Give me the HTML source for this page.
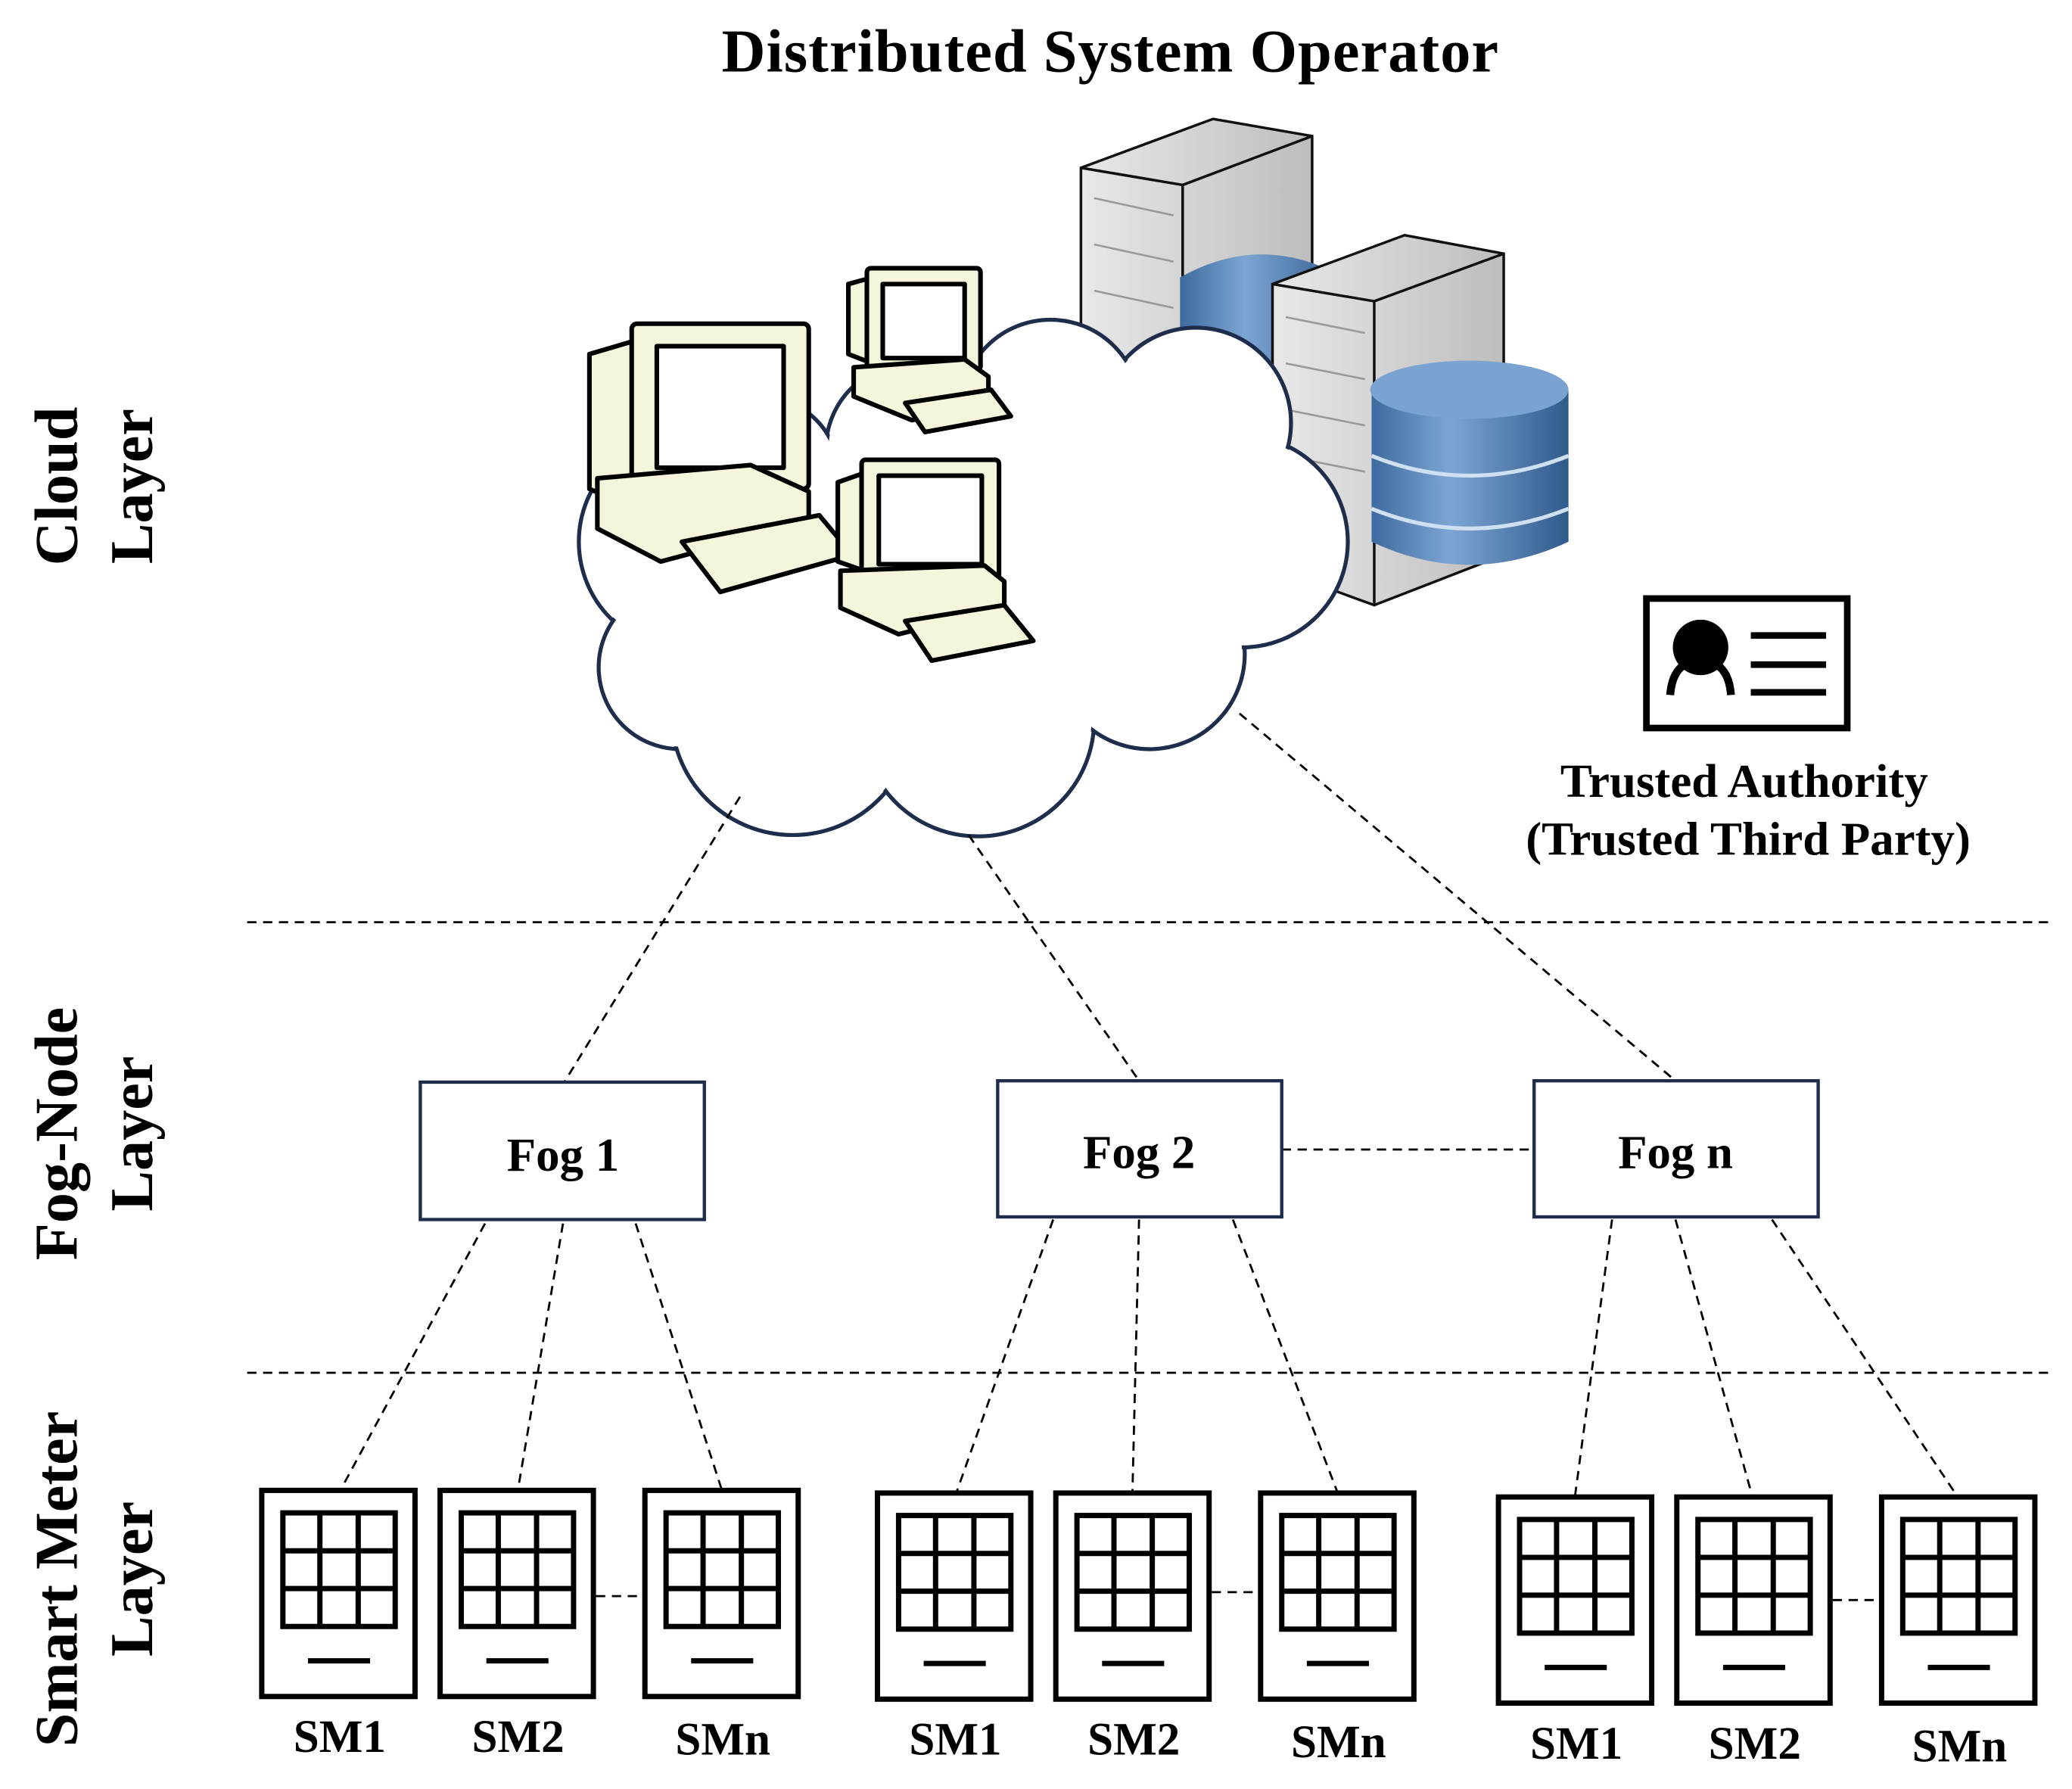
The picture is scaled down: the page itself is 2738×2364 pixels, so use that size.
<!DOCTYPE html>
<html><head><meta charset="utf-8"><style>
html,body{margin:0;padding:0;background:#fff;}
svg{display:block;}
text{font-family:"Liberation Serif",serif;font-weight:bold;fill:#000;}
</style></head><body>
<svg width="2738" height="2364" viewBox="0 0 1568 1354" xmlns="http://www.w3.org/2000/svg">
<defs>
<linearGradient id="srv" x1="0" x2="1"><stop offset="0" stop-color="#e8e8e8"/><stop offset="1" stop-color="#bdbdbd"/></linearGradient>
<linearGradient id="db" x1="0" x2="1"><stop offset="0" stop-color="#3d6a9e"/><stop offset="0.4" stop-color="#7ea6d4"/><stop offset="1" stop-color="#2f5a8c"/></linearGradient>
<g id="sm">
<rect x="2" y="2" width="116" height="156" fill="#fff" stroke="#000" stroke-width="4"/>
<rect x="18" y="19" width="85" height="86" fill="none" stroke="#000" stroke-width="4"/>
<path d="M46 19V105M75 19V105M18 47.7H103M18 76.3H103" stroke="#000" stroke-width="4"/>
<path d="M37 131H84" stroke="#000" stroke-width="4"/>
</g>
</defs>
<text x="840" y="54" font-size="46" text-anchor="middle" textLength="588">Distributed System Operator</text>
<g font-size="46" text-anchor="middle">
<text transform="translate(58,368) rotate(-90)">Cloud</text>
<text transform="translate(115,368) rotate(-90)">Layer</text>
<text transform="translate(58,858) rotate(-90)">Fog-Node</text>
<text transform="translate(115,858) rotate(-90)">Layer</text>
<text transform="translate(58,1195) rotate(-90)">Smart Meter</text>
<text transform="translate(115,1195) rotate(-90)">Layer</text>
</g>
<!-- servers -->
<g stroke="#111" stroke-width="2">
<path d="M818 127 L918 90 L993 103 L993 340 L895 380 L818 350 Z" fill="url(#srv)"/>
<path d="M895 140 L993 103" fill="none"/><path d="M895 140V380" fill="none"/>
<path d="M818 127 L895 140" fill="none"/>
<path d="M893 210 Q955 175 1017 210 V300 Q955 330 893 300Z" fill="url(#db)" stroke="none"/>
<path d="M963 215 L1063 178 L1138 192 L1138 420 L1040 458 L963 430 Z" fill="url(#srv)"/>
<path d="M1040 228 L1138 192M1040 228V458M963 215L1040 228" fill="none"/>
</g>
<g stroke="#999" stroke-width="1.5" fill="none">
<path d="M828 150 L888 163M828 185 L888 198M828 220 L888 233M973 240 L1033 252M973 275 L1033 287M973 310 L1033 322M973 345 L1033 357"/>
</g>
<path d="M1038 295 V410 Q1112 445 1187 410 V295 Z" fill="url(#db)"/>
<ellipse cx="1112" cy="295" rx="75" ry="22" fill="#7aa3d2"/>
<path d="M1038 345 Q1112 375 1187 345M1038 385 Q1112 415 1187 385" stroke="#cfe0f2" stroke-width="3" fill="none"/>
<!-- cloud -->
<g fill="#fff" stroke="#1f2d4d" stroke-width="3">
<circle cx="520" cy="410" r="82"/><circle cx="515" cy="505" r="62"/><circle cx="600" cy="540" r="92"/><circle cx="740" cy="545" r="88"/><circle cx="870" cy="495" r="72"/><circle cx="940" cy="410" r="80"/><circle cx="905" cy="320" r="72"/><circle cx="795" cy="310" r="68"/><circle cx="690" cy="340" r="65"/><circle cx="575" cy="360" r="60"/>
</g>
<g fill="#fff">
<circle cx="520" cy="410" r="80"/><circle cx="515" cy="505" r="60"/><circle cx="600" cy="540" r="90"/><circle cx="740" cy="545" r="86"/><circle cx="870" cy="495" r="70"/><circle cx="940" cy="410" r="78"/><circle cx="905" cy="320" r="70"/><circle cx="795" cy="310" r="66"/><circle cx="690" cy="340" r="63"/><circle cx="575" cy="360" r="58"/><circle cx="720" cy="430" r="130"/><circle cx="830" cy="410" r="110"/><circle cx="600" cy="450" r="100"/><circle cx="870" cy="420" r="80"/>
</g>
<!-- computers -->
<g fill="#f5f5dc" stroke="#000" stroke-width="3.5" stroke-linejoin="round">
<path d="M446 268 L480 258 L480 385 L446 370Z"/>
<rect x="478" y="245" width="134" height="125" rx="4"/>
<rect x="497" y="262" width="96" height="92" fill="#fff"/>
<path d="M452 362 L568 352 L612 372 L612 395 L500 425 L452 400Z"/>
<path d="M516 410 L620 390 L645 420 L545 448Z"/>
<path d="M642 215 L660 210 L660 275 L642 268Z"/>
<rect x="656" y="203" width="86" height="77" rx="3"/>
<rect x="668" y="215" width="62" height="56" fill="#fff"/>
<path d="M646 278 L730 272 L748 285 L748 305 L690 318 L646 300Z"/>
<path d="M685 305 L750 295 L765 315 L700 327Z"/>
<path d="M634 365 L654 358 L654 432 L634 425Z"/>
<rect x="652" y="348" width="104" height="90" rx="3"/>
<rect x="665" y="360" width="78" height="67" fill="#fff"/>
<path d="M636 432 L745 428 L760 440 L760 460 L680 480 L636 460Z"/>
<path d="M685 470 L760 458 L782 485 L705 500Z"/>
</g>
<!-- trusted authority -->
<rect x="1246" y="453" width="152" height="98" fill="#fff" stroke="#000" stroke-width="5"/>
<circle cx="1287" cy="490" r="21" fill="#000"/>
<path d="M1264 526 Q1266 500 1287 500 Q1308 500 1310 526" fill="none" stroke="#000" stroke-width="6"/>
<path d="M1325 481H1382M1325 503H1382M1325 524H1382" stroke="#000" stroke-width="5"/>
<text x="1320" y="603" font-size="36" text-anchor="middle">Trusted Authority</text>
<text x="1323" y="647" font-size="36" text-anchor="middle">(Trusted Third Party)</text>
<!-- dashed lines -->
<g stroke="#000" stroke-width="1.6" stroke-dasharray="7,5" fill="none">
<path d="M187 698H1553M187 1039H1553"/>
<path d="M560 603L427 819M733 632L862 818M938 540L1268 818"/>
<path d="M970 870H1161"/>
<path d="M367 926L258 1127M426 926L392 1127M481 926L546 1127"/>
<path d="M797 923L724 1129M862 923L857 1129M933 923L1012 1129"/>
<path d="M1220 923L1192 1132M1268 923L1326 1132M1341 923L1481 1132"/>
<path d="M451 1208H487M917 1205H953M1387 1211H1423"/>
</g>
<!-- fog boxes -->
<g fill="#fff" stroke="#1f2d4d" stroke-width="2.5">
<rect x="318" y="819" width="215" height="104"/>
<rect x="755" y="818" width="215" height="103"/>
<rect x="1161" y="818" width="215" height="103"/>
</g>
<g font-size="36" text-anchor="middle">
<text x="426" y="886">Fog 1</text>
<text x="862" y="884">Fog 2</text>
<text x="1268" y="884">Fog n</text>
</g>
<!-- smart meters -->
<use href="#sm" x="196" y="1126"/><use href="#sm" x="331" y="1126"/><use href="#sm" x="486" y="1126"/>
<use href="#sm" x="662" y="1128"/><use href="#sm" x="797" y="1128"/><use href="#sm" x="952" y="1128"/>
<use href="#sm" x="1132" y="1131"/><use href="#sm" x="1267" y="1131"/><use href="#sm" x="1422" y="1131"/>
<g font-size="35" text-anchor="middle">
<text x="257" y="1326">SM1</text><text x="392" y="1326">SM2</text><text x="547" y="1328">SMn</text>
<text x="723" y="1328">SM1</text><text x="858" y="1328">SM2</text><text x="1013" y="1330">SMn</text>
<text x="1193" y="1331">SM1</text><text x="1328" y="1331">SM2</text><text x="1483" y="1333">SMn</text>
</g>
</svg>
</body></html>
